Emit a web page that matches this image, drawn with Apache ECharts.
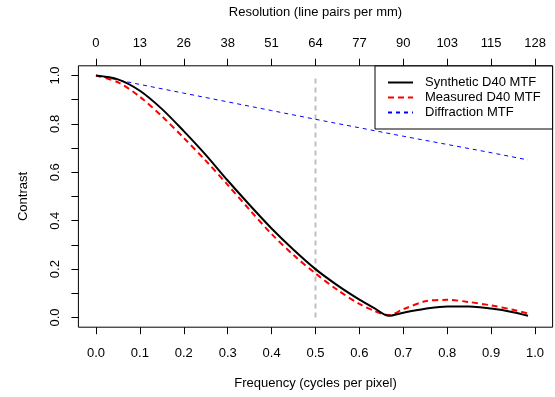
<!DOCTYPE html>
<html>
<head>
<meta charset="utf-8">
<script src="https://cdn.jsdelivr.net/npm/echarts@6/dist/echarts.min.js"></script>
<style>
  html, body { margin: 0; padding: 0; background: #fff; }
  #chart { width: 555px; height: 397px; }
</style>
</head>
<body>
<div id="chart"></div>
<script>
// frequency samples (cycles per pixel)
const freq = [0, 0.05, 0.1, 0.15, 0.2, 0.25, 0.3, 0.35, 0.4, 0.45, 0.5, 0.55,
  0.6, 0.633, 0.667, 0.7, 0.75, 0.8, 0.85, 0.9, 0.95, 0.984];
const synthetic = [1.0, 0.984, 0.937, 0.862, 0.77, 0.672, 0.566, 0.465, 0.368,
  0.28, 0.2, 0.133, 0.074, 0.04, 0.007, 0.02, 0.036, 0.046, 0.046, 0.037, 0.022, 0.007];
const measured = [1.0, 0.972, 0.912, 0.832, 0.742, 0.648, 0.548, 0.445, 0.345,
  0.258, 0.182, 0.114, 0.056, 0.028, 0.01, 0.034, 0.067, 0.073, 0.064, 0.05, 0.032, 0.017];

const diffFreq = [0, 0.1, 0.2, 0.3, 0.4, 0.5, 0.6, 0.7, 0.8, 0.9, 0.984];
const diffraction = [1.0, 0.963, 0.927, 0.891, 0.855, 0.819, 0.784, 0.749, 0.715, 0.681, 0.651];

// nyquist marker
const cutoffLine = [[0.5, 0], [0.5, 1]];

const xTicks = [0, 0.1, 0.2, 0.3, 0.4, 0.5, 0.6, 0.7, 0.8, 0.9, 1.0];
const bottomLabels = ["0.0", "0.1", "0.2", "0.3", "0.4", "0.5", "0.6", "0.7", "0.8", "0.9", "1.0"];
const topLabels = ["0", "13", "26", "38", "51", "64", "77", "90", "103", "115", "128"];
const yTicks = [0, 0.1, 0.2, 0.3, 0.4, 0.5, 0.6, 0.7, 0.8, 0.9, 1.0];
const yLabelValues = [0, 0.2, 0.4, 0.6, 0.8, 1.0];

const font = "Liberation Sans, Arial, sans-serif";
const pair = (xs, ys) => xs.map((x, i) => [x, ys[i]]);

const chart = echarts.init(document.getElementById("chart"));
chart.setOption({
  animation: false,
  textStyle: { fontFamily: font },
  grid: {
    left: 78.4,
    top: 65.8,
    width: 474.2,
    height: 261.4,
    show: true,
    borderColor: "#000",
    borderWidth: 1,
    backgroundColor: "transparent",
  },
  xAxis: [
    {
      type: "value",
      min: -0.04,
      max: 1.04,
      position: "bottom",
      axisLine: { show: false, onZero: false },
      splitLine: { show: false },
      axisTick: { show: true, inside: false, length: 7, customValues: xTicks, lineStyle: { color: "#000" } },
      axisLabel: {
        customValues: xTicks,
        margin: 20,
        fontSize: 13,
        color: "#000",
        formatter: (v) => bottomLabels[Math.round(v * 10)],
      },
      name: "Frequency (cycles per pixel)",
      nameLocation: "middle",
      nameGap: 50,
      nameTextStyle: { fontSize: 13, color: "#000" },
    },
    {
      type: "value",
      min: -0.04,
      max: 1.04,
      position: "top",
      axisLine: { show: false, onZero: false },
      splitLine: { show: false },
      axisTick: { show: true, inside: false, length: 7, customValues: xTicks, lineStyle: { color: "#000" } },
      axisLabel: {
        customValues: xTicks,
        margin: 16,
        fontSize: 13,
        color: "#000",
        formatter: (v) => topLabels[Math.round(v * 10)],
      },
      name: "Resolution (line pairs per mm)",
      nameLocation: "middle",
      nameGap: 47,
      nameTextStyle: { fontSize: 13, color: "#000" },
    },
  ],
  yAxis: {
    type: "value",
    min: -0.04,
    max: 1.04,
    axisLine: { show: false, onZero: false },
    splitLine: { show: false },
    axisTick: { show: true, inside: false, length: 7, customValues: yTicks, lineStyle: { color: "#000" } },
    axisLabel: {
      customValues: yLabelValues,
      rotate: 90,
      margin: 16,
      fontSize: 13,
      color: "#000",
      formatter: (v) => v.toFixed(1),
    },
    name: "Contrast",
    nameLocation: "middle",
    nameGap: 48,
    nameRotate: 90,
    nameTextStyle: { fontSize: 13, color: "#000" },
  },
  legend: {
    orient: "vertical",
    left: 375,
    top: 66,
    padding: [10, 12, 10, 12],
    itemWidth: 25,
    itemHeight: 14,
    itemGap: 2,
    borderColor: "#000",
    borderWidth: 1,
    backgroundColor: "#fff",
    itemStyle: { opacity: 0 },
    textStyle: { fontSize: 13, color: "#000", padding: [0, 0, 0, 7] },
    data: ["Synthetic D40 MTF", "Measured D40 MTF", "Diffraction MTF"],
  },
  series: [
    {
      name: "Nyquist",
      type: "line",
      data: cutoffLine,
      symbol: "none",
      silent: true,
      lineStyle: { color: "#bebebe", width: 2, type: [5, 4] },
      z: 1,
    },
    {
      name: "Diffraction MTF",
      type: "line",
      data: pair(diffFreq, diffraction),
      symbol: "none",
      lineStyle: { color: "#0000ff", width: 1, type: [4, 4] },
      itemStyle: { color: "#0000ff" },
      z: 2,
    },
    {
      name: "Measured D40 MTF",
      type: "line",
      data: pair(freq, measured),
      symbol: "none",
      smooth: 0.3,
      lineStyle: { color: "#ff0000", width: 2, type: [6, 4] },
      itemStyle: { color: "#ff0000" },
      z: 3,
    },
    {
      name: "Synthetic D40 MTF",
      type: "line",
      data: pair(freq, synthetic),
      symbol: "none",
      smooth: 0.3,
      lineStyle: { color: "#000", width: 2 },
      itemStyle: { color: "#000" },
      z: 4,
    },
  ],
});
</script>
</body>
</html>
